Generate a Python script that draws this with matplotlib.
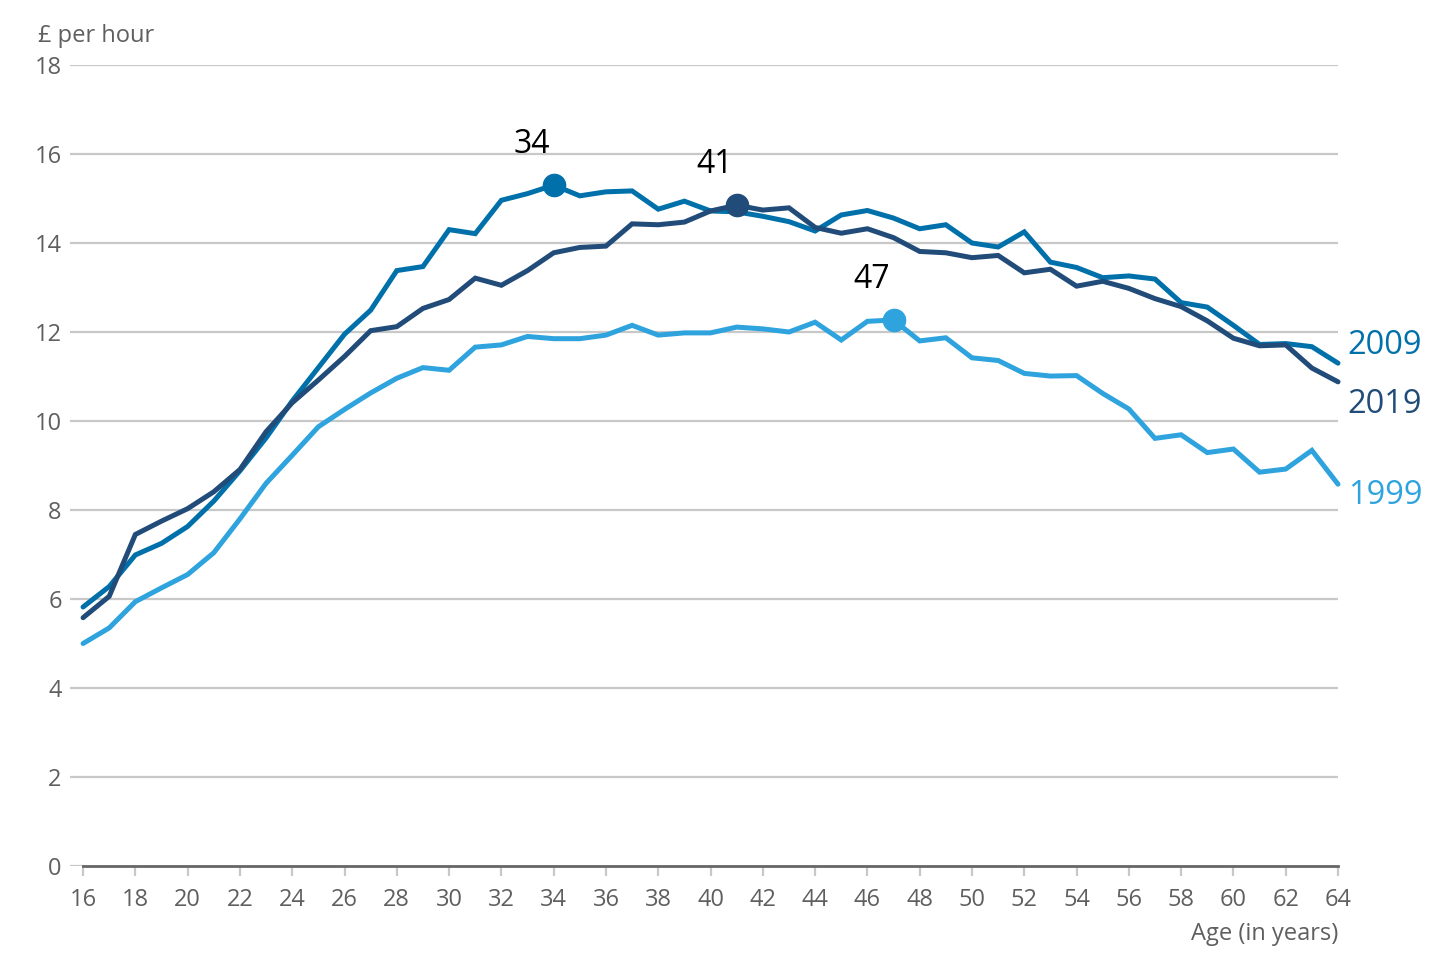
import matplotlib
matplotlib.use("Agg")
import matplotlib.pyplot as plt

plt.rcParams['font.family'] = ['Open Sans', 'DejaVu Sans']

ages = list(range(16, 65))

wage_2009 = [5.82, 6.28, 6.99, 7.25, 7.63, 8.2, 8.88, 9.62, 10.45, 11.2, 11.95, 12.49,
             13.38, 13.47, 14.3, 14.21, 14.96, 15.11, 15.3, 15.06, 15.15, 15.17, 14.76,
             14.94, 14.72, 14.7, 14.6, 14.48, 14.27, 14.63, 14.73, 14.56, 14.32, 14.41,
             14.0, 13.91, 14.25, 13.57, 13.45, 13.22, 13.26, 13.19, 12.66, 12.56, 12.15,
             11.72, 11.74, 11.67, 11.3]

wage_2019 = [5.58, 6.06, 7.45, 7.75, 8.03, 8.41, 8.91, 9.76, 10.41, 10.92, 11.45, 12.03,
             12.12, 12.53, 12.73, 13.21, 13.05, 13.38, 13.78, 13.9, 13.93, 14.43, 14.41,
             14.47, 14.72, 14.85, 14.74, 14.79, 14.35, 14.22, 14.32, 14.12, 13.81, 13.78,
             13.67, 13.72, 13.33, 13.41, 13.03, 13.14, 12.98, 12.75, 12.57, 12.25, 11.86,
             11.69, 11.71, 11.19, 10.88]

wage_1999 = [5.0, 5.35, 5.94, 6.25, 6.55, 7.04, 7.8, 8.6, 9.23, 9.87, 10.26, 10.63,
             10.96, 11.2, 11.14, 11.66, 11.71, 11.9, 11.85, 11.85, 11.93, 12.15, 11.93,
             11.98, 11.98, 12.11, 12.07, 12.0, 12.22, 11.82, 12.24, 12.27, 11.8, 11.87,
             11.42, 11.36, 11.07, 11.01, 11.02, 10.62, 10.27, 9.61, 9.69, 9.29, 9.37,
             8.85, 8.92, 9.34, 8.58]

series_names = ['2009', '2019', '1999']
peak_ages = [34, 41, 47]
colors = ['#0070aa', '#214b78', '#2ea3de']

fig = plt.figure(figsize=(14.52, 9.72), dpi=100)
ax = fig.add_axes([70/1452, 1-866/972, (1338-70)/1452, (866-65)/972])

ax.set_xlim(15.5, 64)
ax.set_ylim(0, 18)

yticks = list(range(0, 19, 2))
for yv in yticks[1:]:
    ax.axhline(yv, color='#c8c8c8', lw=1.6, zorder=1)
ax.axhline(0, xmin=0, xmax=(16-15.5)/(64-15.5), color='#c8c8c8', lw=1.6, zorder=1)

for s in ['top', 'right', 'left']:
    ax.spines[s].set_visible(False)
ax.spines['bottom'].set_bounds(16, 64)
ax.spines['bottom'].set_color('#666666')
ax.spines['bottom'].set_linewidth(2.0)
ax.spines['bottom'].set_zorder(2)

ax.set_yticks(yticks)
ax.set_yticklabels([str(v) for v in yticks])
ax.tick_params(axis='y', length=0, pad=6, labelsize=17, labelcolor='#5f5f5f')

xticks = list(range(16, 65, 2))
ax.set_xticks(xticks)
ax.set_xticklabels([str(v) for v in xticks])
ax.tick_params(axis='x', length=7.5, width=1.6, color='#c8c8c8', pad=8,
               labelsize=17, labelcolor='#5f5f5f')

data = [wage_2009, wage_2019, wage_1999]
for vals, c in zip(data, colors):
    ax.plot(ages, vals, color=c, lw=3.6, zorder=3, solid_joinstyle='miter',
            solid_capstyle='round', clip_on=False)

for vals, c, pa in zip(data, colors, peak_ages):
    v = vals[ages.index(pa)]
    ax.plot([pa], [v], 'o', color=c, ms=16, zorder=4, clip_on=False)
    ax.annotate(str(pa), (pa, v), xytext=(-16, 29), textcoords='offset points',
                ha='center', va='center', fontsize=23, color='black')

label_offsets = [13, -16, -8]
for vals, c, name, off in zip(data, colors, series_names, label_offsets):
    ax.annotate(name, (64, vals[-1]), xytext=(7, off), textcoords='offset points',
                ha='left', va='center', fontsize=23.5, color=c, annotation_clip=False)

fig.text(38/1452, 1-36/972, '£ per hour', ha='left', va='center', fontsize=17,
         color='#5f5f5f')
fig.text(1338/1452, 1-934/972, 'Age (in years)', ha='right', va='center', fontsize=17,
         color='#5f5f5f')

fig.savefig('out.png', dpi=100)
